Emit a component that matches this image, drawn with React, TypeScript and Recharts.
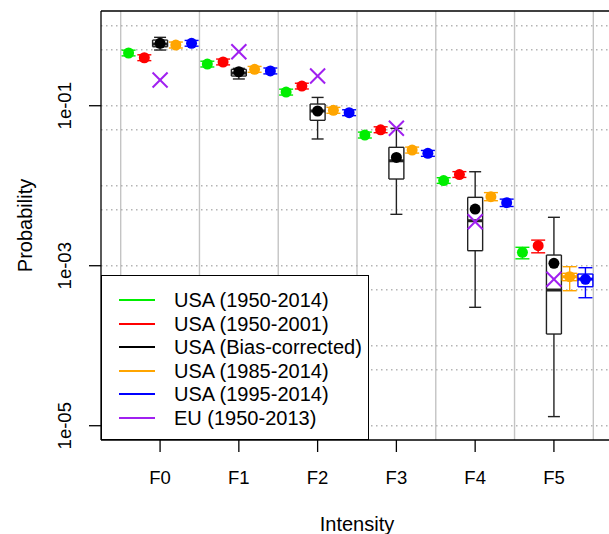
import React from "react"
import { ComposedChart, Scatter, ErrorBar, XAxis, YAxis, ReferenceLine } from "recharts"

const groups = ["F0", "F1", "F2", "F3", "F4", "F5"]
const yTicks = [0.1, 0.001, 0.00001]
const yTickLabels = ["1e-01", "1e-03", "1e-05"]
const xGrid = [0.5, 1.5, 2.5, 3.5, 4.5, 5.5, 6.5]
const yGrid = [1, 0.5, 0.1, 0.05, 0.01, 0.005, 0.001, 0.0005, 0.0001, 0.00005, 0.00001]
const X_MIN = 0.25
const X_MAX = 6.75
const Y_MIN = 6.63e-6
const Y_MAX = 1.528

// USA (1950-2014)
const greenMean = [0.456, 0.332, 0.148, 0.043, 0.0116, 0.00147]
const greenLow = [0.42, 0.305, 0.136, 0.0395, 0.0107, 0.00122]
const greenHigh = [0.495, 0.36, 0.161, 0.0468, 0.0126, 0.0017]

// USA (1950-2001)
const redMean = [0.398, 0.352, 0.176, 0.05, 0.0138, 0.00178]
const redLow = [0.366, 0.324, 0.162, 0.046, 0.0127, 0.00145]
const redHigh = [0.433, 0.383, 0.191, 0.0545, 0.015, 0.00209]

// USA (Bias-corrected)
const blackMean = [0.603, 0.266, 0.0859, 0.0226, 0.00511, 0.00107]
const blackLow = [0.497, 0.216, 0.0384, 0.00439, 0.000302, 0.000013]
const blackHigh = [0.716, 0.293, 0.127, 0.0522, 0.01496, 0.00403]
const blackQ1 = [0.546, 0.235, 0.0657, 0.01213, 0.00154, 0.00014]
const blackMed = [0.59, 0.256, 0.086, 0.0205, 0.00365, 0.000497]
const blackQ3 = [0.662, 0.285, 0.105, 0.0302, 0.00716, 0.00136]

// USA (1985-2014)
const orangeMean = [0.574, 0.285, 0.0876, 0.0279, 0.00729, 0.000729]
const orangeLow = [0.527, 0.262, 0.0805, 0.0256, 0.0065, 0.000487]
const orangeHigh = [0.625, 0.31, 0.0954, 0.0304, 0.0082, 0.000972]
const orangeQ1 = [null, null, null, null, null, 0.00065]
const orangeMed = [null, null, null, null, null, 0.000729]
const orangeQ3 = [null, null, null, null, null, 0.000804]

// USA (1995-2014)
const blueMean = [0.603, 0.272, 0.0818, 0.0254, 0.00613, 0.000676]
const blueLow = [0.555, 0.25, 0.0752, 0.0233, 0.0055, 0.000398]
const blueHigh = [0.655, 0.296, 0.089, 0.0276, 0.0068, 0.000944]
const blueQ1 = [null, null, null, null, null, 0.000546]
const blueMed = [null, null, null, null, null, 0.00068]
const blueQ3 = [null, null, null, null, null, 0.000787]

// EU (1950-2013)
const purpleMean = [0.21, 0.473, 0.235, 0.0522, 0.00355, 0.000676]

const series = [
  { name: "USA (1950-2014)", color: "#00ee00", off: -0.4, mean: greenMean, low: greenLow, high: greenHigh },
  { name: "USA (1950-2001)", color: "#ff0000", off: -0.2, mean: redMean, low: redLow, high: redHigh },
  { name: "USA (Bias-corrected)", color: "#000000", off: 0, mean: blackMean, low: blackLow, high: blackHigh, q1: blackQ1, med: blackMed, q3: blackQ3 },
  { name: "USA (1985-2014)", color: "#ffa500", off: 0.2, mean: orangeMean, low: orangeLow, high: orangeHigh, q1: orangeQ1, med: orangeMed, q3: orangeQ3 },
  { name: "USA (1995-2014)", color: "#0000ff", off: 0.4, mean: blueMean, low: blueLow, high: blueHigh, q1: blueQ1, med: blueMed, q3: blueQ3 },
]
const euSeries = { name: "EU (1950-2013)", color: "#a020f0", off: 0, mean: purpleMean }
const legendItems = [...series, euSeries]

const BOX_HALF = 0.095
const at = (i: number, off: number) => i + 1 + off

const pointData = (mean: number[], off: number) => mean.map((m, i) => ({ x: at(i, off), y: m }))
const whiskerData = (mean: number[], low: number[], high: number[], off: number) =>
  mean.map((m, i) => ({ x: at(i, off), y: m, err: [m - low[i], high[i] - m] }))
const fillData = (q1: any[], q3: any[], off: number) =>
  q1.flatMap((a, i) => (a == null ? [] : [{ x: at(i, off), y: q3[i], err: [q3[i] - a, 0] }]))
const sideData = (q1: any[], q3: any[], off: number) =>
  q1.flatMap((a, i) =>
    a == null
      ? []
      : [
          { x: at(i, off) - BOX_HALF, y: a, err: [0, q3[i] - a] },
          { x: at(i, off) + BOX_HALF, y: a, err: [0, q3[i] - a] },
        ]
  )
const edgeData = (q1: any[], q3: any[], off: number) =>
  q1.flatMap((a, i) =>
    a == null
      ? []
      : [
          { x: at(i, off), y: a, err: BOX_HALF },
          { x: at(i, off), y: q3[i], err: BOX_HALF },
        ]
  )
const medianData = (med: any[], off: number) =>
  med.flatMap((v, i) => (v == null ? [] : [{ x: at(i, off), y: v, err: BOX_HALF }]))

const noShape = () => <g />
const dot = (color: string) => (p: any) => <circle cx={p.cx} cy={p.cy} r={5.5} fill={color} />
const cross = (color: string) => (p: any) => (
  <g stroke={color} strokeWidth={2}>
    <line x1={p.cx - 7.5} y1={p.cy - 7.5} x2={p.cx + 7.5} y2={p.cy + 7.5} />
    <line x1={p.cx - 7.5} y1={p.cy + 7.5} x2={p.cx + 7.5} y2={p.cy - 7.5} />
  </g>
)

const XTick = ({ x, y, payload }: any) => (
  <text x={x} y={y} dy="0.71em" textAnchor="middle" fontSize={18.5} fill="#000">
    {groups[payload.value - 1]}
  </text>
)

const YTick = ({ x, y, payload }: any) => (
  <text
    x={x}
    y={y}
    transform={`rotate(-90 ${x} ${y})`}
    textAnchor="middle"
    dominantBaseline="central"
    fontSize={18.5}
    fill="#000"
  >
    {yTickLabels[yTicks.indexOf(payload.value)]}
  </text>
)

const font = '"Liberation Sans", Arial, sans-serif'

export default function App() {
  return (
    <div style={{ position: "absolute", left: 0, top: 0, width: 609, height: 534, overflow: "hidden", background: "#fff", fontFamily: font }}>
      <ComposedChart width={620} height={534} margin={{ top: 11, right: 7, bottom: 0, left: 41 }}>
        <XAxis
          type="number"
          dataKey="x"
          domain={[X_MIN, X_MAX]}
          allowDataOverflow
          ticks={[1, 2, 3, 4, 5, 6]}
          tick={<XTick />}
          tickSize={12}
          tickMargin={19}
          height={94}
          axisLine={{ stroke: "#000", strokeWidth: 1.3 }}
          tickLine={{ stroke: "#000", strokeWidth: 1.3 }}
          label={{
            content: ({ viewBox }: any) => (
              <text x={viewBox.x + viewBox.width / 2} y={531} textAnchor="middle" fontSize={20} fill="#000">
                Intensity
              </text>
            ),
          }}
        />
        <YAxis
          type="number"
          dataKey="y"
          scale="log"
          domain={[Y_MIN, Y_MAX]}
          allowDataOverflow
          ticks={yTicks}
          tick={<YTick />}
          tickSize={12}
          tickMargin={24}
          width={60}
          axisLine={{ stroke: "#000", strokeWidth: 1.3 }}
          tickLine={{ stroke: "#000", strokeWidth: 1.3 }}
          label={{
            content: ({ viewBox }: any) => {
              const cx = viewBox.x - 16
              const cy = viewBox.y + viewBox.height / 2
              return (
                <text x={cx} y={cy} transform={`rotate(-90 ${cx} ${cy})`} textAnchor="middle" dominantBaseline="central" fontSize={20} fill="#000">
                  Probability
                </text>
              )
            },
          }}
        />

        {xGrid.map((v) => (
          <ReferenceLine key={"gx" + v} x={v} stroke="#c4c4c4" strokeWidth={1.4} />
        ))}
        {yGrid.map((v) => (
          <ReferenceLine key={"gy" + v} y={v} stroke="#b4b4b4" strokeWidth={1.4} strokeDasharray="1.5 3.5" />
        ))}
        <ReferenceLine y={Y_MAX} stroke="#000" strokeWidth={1.3} ifOverflow="visible" />
        <ReferenceLine x={X_MAX} stroke="#000" strokeWidth={1.3} ifOverflow="visible" />

        {series.map((s) => {
          const boxColor = s.color === "#000000" ? "#222" : s.color
          const items = [
            <Scatter key={s.name + "w"} data={whiskerData(s.mean, s.low, s.high, s.off)} shape={noShape} isAnimationActive={false} legendType="none">
              <ErrorBar dataKey="err" direction="y" width={s.q1 && s.color === "#000000" ? 6 : 7} stroke={boxColor} strokeWidth={1.4} isAnimationActive={false} />
            </Scatter>,
          ]
          if (s.q1) {
            items.push(
              <Scatter key={s.name + "f"} data={fillData(s.q1, s.q3, s.off)} shape={noShape} isAnimationActive={false} legendType="none">
                <ErrorBar dataKey="err" direction="y" width={0} stroke="#fff" strokeWidth={14} isAnimationActive={false} />
              </Scatter>,
              <Scatter key={s.name + "s"} data={sideData(s.q1, s.q3, s.off)} shape={noShape} isAnimationActive={false} legendType="none">
                <ErrorBar dataKey="err" direction="y" width={0} stroke={boxColor} strokeWidth={1.4} isAnimationActive={false} />
              </Scatter>,
              <Scatter key={s.name + "e"} data={edgeData(s.q1, s.q3, s.off)} shape={noShape} isAnimationActive={false} legendType="none">
                <ErrorBar dataKey="err" direction="x" width={0} stroke={boxColor} strokeWidth={1.4} isAnimationActive={false} />
              </Scatter>,
              <Scatter key={s.name + "m"} data={medianData(s.med, s.off)} shape={noShape} isAnimationActive={false} legendType="none">
                <ErrorBar dataKey="err" direction="x" width={0} stroke={boxColor} strokeWidth={3} isAnimationActive={false} />
              </Scatter>
            )
          }
          items.push(
            <Scatter key={s.name + "p"} name={s.name} data={pointData(s.mean, s.off)} shape={dot(s.color)} isAnimationActive={false} />
          )
          return items
        })}
        <Scatter name={euSeries.name} data={pointData(euSeries.mean, euSeries.off)} shape={cross(euSeries.color)} isAnimationActive={false} />
      </ComposedChart>

      <div
        style={{
          position: "absolute",
          left: 101,
          top: 275,
          width: 268,
          height: 165,
          boxSizing: "border-box",
          border: "1.3px solid #000",
          background: "#fff",
        }}
      >
        {legendItems.map((s, i) => (
          <div key={s.name} style={{ position: "absolute", left: 0, top: 24 + i * 23.5, height: 0, width: "100%" }}>
            <div style={{ position: "absolute", left: 17, top: -1, width: 36, height: 2, background: s.color }} />
            <div style={{ position: "absolute", left: 72, top: -12, fontSize: 20, lineHeight: "24px", whiteSpace: "nowrap", color: "#000" }}>
              {s.name}
            </div>
          </div>
        ))}
      </div>
    </div>
  )
}
